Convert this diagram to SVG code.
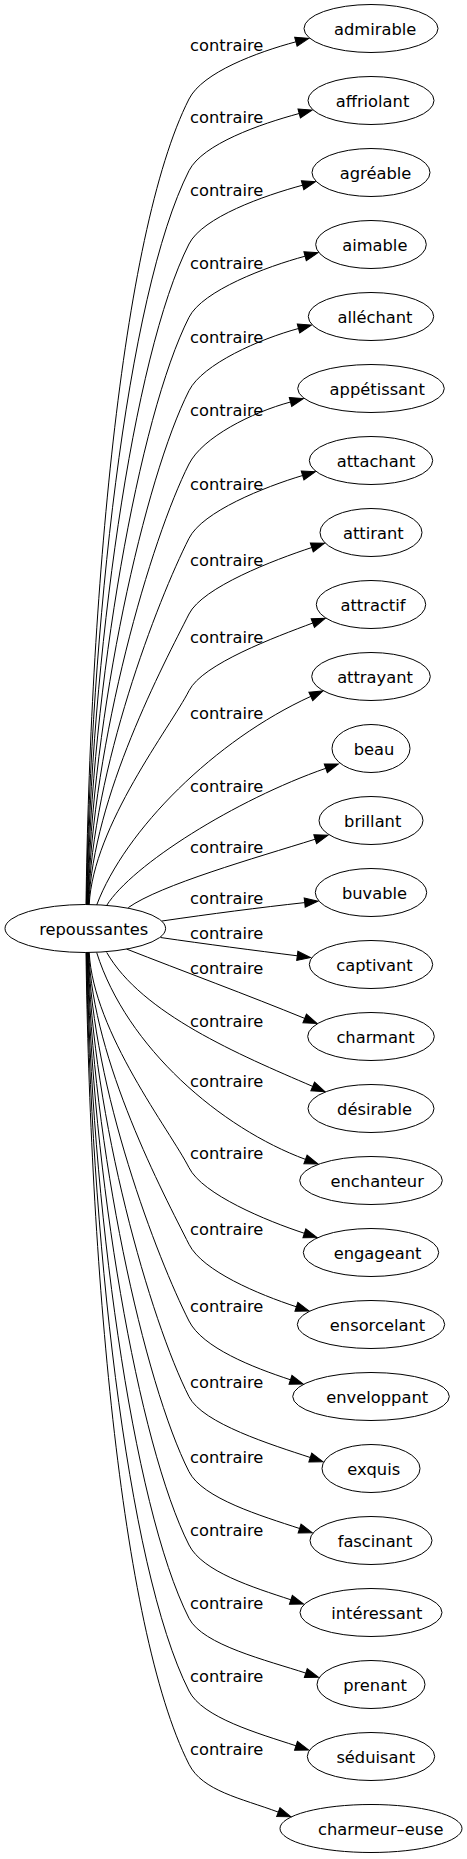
<svg xmlns="http://www.w3.org/2000/svg" width="467" height="1859" viewBox="0 0 467 1859">
<style>
text{font-family:"DejaVu Sans","Liberation Sans",sans-serif;font-size:16.3px;fill:#000;text-anchor:middle}
ellipse{fill:none;stroke:#000;stroke-width:1}
.e{fill:none;stroke:#000;stroke-width:1;marker-end:url(#arr)}
</style>
<defs>
<marker id="arr" markerUnits="userSpaceOnUse" markerWidth="15" markerHeight="11" refX="0" refY="5" orient="auto" overflow="visible">
<path d="M0,0.33 L13.33,5 L0,9.67 z" fill="#000" stroke="#000" stroke-width="1"/>
</marker>
</defs>
<rect width="467" height="1859" fill="#fff"/>
<g id="edges">
<path class="e" d="M86,904.6 C90,606.5 120.1,235.1 189,99 C202.5,72.3 257.3,52.2 295.9,41.8"/>
<text x="226.7" y="51">contraire</text>
<path class="e" d="M86.4,904.6 C90.4,633.1 126.3,294.7 189,170.7 C202.5,144 260.6,123.9 299.2,113.5"/>
<text x="226.7" y="122.7">contraire</text>
<path class="e" d="M86.8,904.6 C90.8,660.2 132.5,355.6 189,244 C202.5,217.3 264,195.6 302.6,185.2"/>
<text x="226.7" y="196">contraire</text>
<path class="e" d="M87.2,904.6 C91.2,687.3 138.8,416.6 189,317.3 C202.5,290.6 266.5,266.6 305.1,256.2"/>
<text x="226.7" y="269.3">contraire</text>
<path class="e" d="M87.6,904.6 C91.6,714.5 145.1,477.5 189,390.7 C202.5,364 259.9,338.9 298.5,328.5"/>
<text x="226.7" y="342.7">contraire</text>
<path class="e" d="M88,904.6 C92,741.6 151.3,538.5 189,464 C202.5,437.3 251.9,412.4 290.5,402"/>
<text x="226.7" y="416">contraire</text>
<path class="e" d="M88.4,904.6 C92.4,769.1 157.7,600.2 189,538.3 C202.5,511.6 264.3,487 302.6,475.5"/>
<text x="226.7" y="490.3">contraire</text>
<path class="e" d="M88.8,904.6 C92.8,797.1 164.2,663.1 189,614 C202.5,587.3 273.8,560 311.8,547.5"/>
<text x="226.7" y="566">contraire</text>
<path class="e" d="M89.2,904.6 C93.2,825.5 170.7,726.8 189,690.7 C202.5,664 275.4,637 312.8,623"/>
<text x="226.7" y="642.7">contraire</text>
<path class="e" d="M96.7,905 C125,830 215,740 310.8,696.4"/>
<text x="226.7" y="719.3">contraire</text>
<path class="e" d="M106.7,905.4 C132,865 235,800 325.8,768.3"/>
<text x="226.7" y="792">contraire</text>
<path class="e" d="M128.3,907.6 C160,885 255,858 315.2,839.2"/>
<text x="226.7" y="852.7">contraire</text>
<path class="e" d="M162,921 C210,914 260,907.5 304.7,902.6"/>
<text x="226.7" y="904.3">contraire</text>
<path class="e" d="M160.5,937.5 C205,944 255,950.5 297.3,955.8"/>
<text x="226.7" y="938.7">contraire</text>
<path class="e" d="M126.7,949.1 C180,970 250,996 304.7,1018.4"/>
<text x="226.7" y="974.3">contraire</text>
<path class="e" d="M106.7,952.4 C141.7,1013.6 239.2,1054.8 312.7,1086.4"/>
<text x="226.7" y="1026.7">contraire</text>
<path class="e" d="M96.7,952.6 C126.7,1047.7 221.1,1128.2 305.5,1159.4"/>
<text x="226.7" y="1086.7">contraire</text>
<path class="e" d="M89.2,952.4 C93.2,1032.1 170.4,1131 189,1167.7 C202.5,1194.4 266.4,1220.8 304.4,1233.3"/>
<text x="226.7" y="1158.7">contraire</text>
<path class="e" d="M88.8,952.4 C92.8,1061.1 163.9,1194.6 189,1244.3 C202.5,1271 258.4,1294.3 296.4,1306.8"/>
<text x="226.7" y="1235.3">contraire</text>
<path class="e" d="M88.4,952.4 C92.4,1089.5 157.3,1258.4 189,1321 C202.5,1347.7 252.5,1367.3 290.5,1379.8"/>
<text x="226.7" y="1312">contraire</text>
<path class="e" d="M88,952.4 C92,1117.5 150.8,1321.3 189,1396.7 C202.5,1423.4 272.3,1445 310.3,1457.5"/>
<text x="226.7" y="1387.7">contraire</text>
<path class="e" d="M87.6,952.4 C91.6,1145.3 144.4,1383.6 189,1471.7 C202.5,1498.4 261.6,1516 299.6,1528.5"/>
<text x="226.7" y="1462.7">contraire</text>
<path class="e" d="M87.2,952.4 C91.2,1172.4 138.2,1444.5 189,1545 C202.5,1571.7 252.9,1587.3 290.9,1599.8"/>
<text x="226.7" y="1536">contraire</text>
<path class="e" d="M86.8,952.4 C90.8,1199.5 131.9,1505.4 189,1618.3 C202.5,1645 267.8,1660.6 305.8,1673.1"/>
<text x="226.7" y="1609.3">contraire</text>
<path class="e" d="M86.4,952.4 C90.4,1226.4 125.7,1565.8 189,1691 C202.5,1717.7 258,1733.3 296,1745.8"/>
<text x="226.7" y="1682">contraire</text>
<path class="e" d="M86,952.4 C90,1253.5 119.4,1626.8 189,1764.3 C202.5,1791 240.8,1798.2 278.3,1812.1"/>
<text x="226.7" y="1755.3">contraire</text>
</g>
<g id="n-repoussantes"><ellipse cx="85.3" cy="928.5" rx="80.3" ry="24"/><text x="93.7" y="934.5">repoussantes</text></g>
<g id="n-admirable"><ellipse cx="371" cy="28.5" rx="67" ry="24"/><text x="375.2" y="34.5">admirable</text></g>
<g id="n-affriolant"><ellipse cx="371" cy="100.5" rx="63" ry="24"/><text x="372.5" y="106.5">affriolant</text></g>
<g id="n-agreable"><ellipse cx="371" cy="172.5" rx="59" ry="24"/><text x="375.5" y="178.5">agréable</text></g>
<g id="n-aimable"><ellipse cx="371" cy="244.5" rx="55.3" ry="24"/><text x="374.8" y="250.5">aimable</text></g>
<g id="n-allechant"><ellipse cx="371" cy="316.5" rx="62.7" ry="24"/><text x="375" y="322.5">alléchant</text></g>
<g id="n-appetissant"><ellipse cx="371" cy="388.5" rx="73.3" ry="24"/><text x="377.2" y="394.5">appétissant</text></g>
<g id="n-attachant"><ellipse cx="371" cy="460.5" rx="61.7" ry="24"/><text x="376" y="466.5">attachant</text></g>
<g id="n-attirant"><ellipse cx="371" cy="532.5" rx="51" ry="24"/><text x="373.3" y="538.5">attirant</text></g>
<g id="n-attractif"><ellipse cx="371" cy="604.5" rx="54.7" ry="24"/><text x="373" y="610.5">attractif</text></g>
<g id="n-attrayant"><ellipse cx="371" cy="676.5" rx="59.3" ry="24"/><text x="375" y="682.5">attrayant</text></g>
<g id="n-beau"><ellipse cx="371" cy="748.5" rx="39" ry="24"/><text x="374" y="754.5">beau</text></g>
<g id="n-brillant"><ellipse cx="371" cy="820.5" rx="52" ry="24"/><text x="372.7" y="826.5">brillant</text></g>
<g id="n-buvable"><ellipse cx="371" cy="892.5" rx="55.7" ry="24"/><text x="374.5" y="898.5">buvable</text></g>
<g id="n-captivant"><ellipse cx="371" cy="964.5" rx="61.7" ry="24"/><text x="374.5" y="970.5">captivant</text></g>
<g id="n-charmant"><ellipse cx="371" cy="1036.5" rx="63.3" ry="24"/><text x="375.5" y="1042.5">charmant</text></g>
<g id="n-desirable"><ellipse cx="371" cy="1108.5" rx="63" ry="24"/><text x="374.5" y="1114.5">désirable</text></g>
<g id="n-enchanteur"><ellipse cx="371" cy="1180.5" rx="71.3" ry="24"/><text x="377.2" y="1186.5">enchanteur</text></g>
<g id="n-engageant"><ellipse cx="371" cy="1252.5" rx="67.7" ry="24"/><text x="377.5" y="1258.5">engageant</text></g>
<g id="n-ensorcelant"><ellipse cx="371" cy="1324.5" rx="73.7" ry="24"/><text x="377.5" y="1330.5">ensorcelant</text></g>
<g id="n-enveloppant"><ellipse cx="371" cy="1396.5" rx="78.3" ry="24"/><text x="377.2" y="1402.5">enveloppant</text></g>
<g id="n-exquis"><ellipse cx="371" cy="1468.5" rx="49" ry="24"/><text x="373.7" y="1474.5">exquis</text></g>
<g id="n-fascinant"><ellipse cx="371" cy="1540.5" rx="61" ry="24"/><text x="375" y="1546.5">fascinant</text></g>
<g id="n-interessant"><ellipse cx="371" cy="1612.5" rx="71" ry="24"/><text x="376.8" y="1618.5">intéressant</text></g>
<g id="n-prenant"><ellipse cx="371" cy="1684.5" rx="54" ry="24"/><text x="375" y="1690.5">prenant</text></g>
<g id="n-seduisant"><ellipse cx="371" cy="1756.5" rx="63.7" ry="24"/><text x="375.8" y="1762.5">séduisant</text></g>
<g id="n-charmeur-euse"><ellipse cx="371" cy="1828.5" rx="91" ry="24"/><text x="380.8" y="1834.5">charmeur–euse</text></g>
</svg>
